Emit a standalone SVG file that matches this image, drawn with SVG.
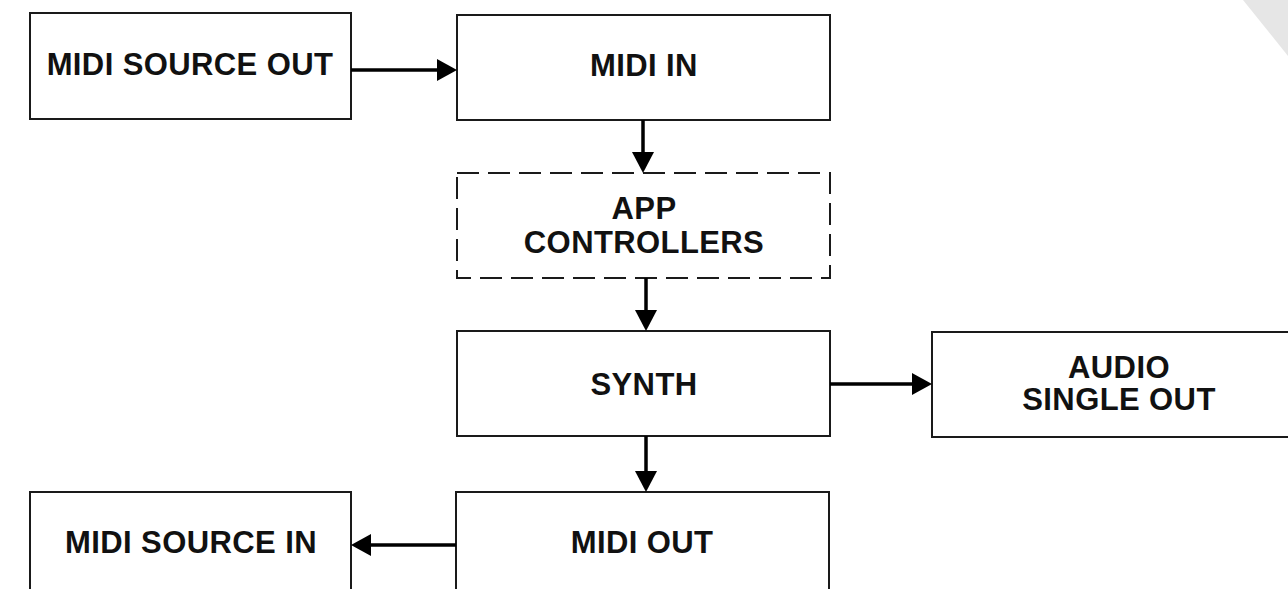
<svg xmlns="http://www.w3.org/2000/svg" width="1288" height="589" viewBox="0 0 1288 589">
  <style>
    .box { fill: #ffffff; stroke: #1a1a1a; stroke-width: 2; }
    .dashed { stroke-dasharray: 22 9; }
    .label { font-family: "Liberation Sans", Arial, sans-serif; font-weight: bold; font-size: 31px; letter-spacing: 0.4px; fill: #111111; text-anchor: middle; }
    .wire { stroke: #000000; stroke-width: 3.5; fill: none; }
    .head { fill: #000000; }
  </style>
  <rect x="0" y="0" width="1288" height="589" fill="#ffffff"/>
  <!-- page corner fold -->
  <polygon points="1243,0 1288,0 1288,56" fill="#e6e6e6"/>

  <g id="midi-source-out">
    <rect class="box" x="30" y="13" width="321" height="106"/>
    <text class="label" x="190" y="75">MIDI SOURCE OUT</text>
  </g>
  <g id="midi-in">
    <rect class="box" x="457" y="15" width="373" height="105"/>
    <text class="label" x="644" y="76">MIDI IN</text>
  </g>
  <g id="app-controllers">
    <rect class="box dashed" x="457" y="173" width="373" height="105"/>
    <text class="label" x="644" y="219">APP</text>
    <text class="label" x="644" y="253">CONTROLLERS</text>
  </g>
  <g id="synth">
    <rect class="box" x="457" y="331" width="373" height="105"/>
    <text class="label" x="644" y="395">SYNTH</text>
  </g>
  <g id="audio-single-out">
    <rect class="box" x="932" y="332" width="376" height="105"/>
    <text class="label" x="1119" y="378">AUDIO</text>
    <text class="label" x="1119" y="410">SINGLE OUT</text>
  </g>
  <g id="midi-out">
    <rect class="box" x="456" y="492" width="373" height="110"/>
    <text class="label" x="642" y="553">MIDI OUT</text>
  </g>
  <g id="midi-source-in">
    <rect class="box" x="30" y="492" width="321" height="110"/>
    <text class="label" x="191" y="553">MIDI SOURCE IN</text>
  </g>

  <g id="connectors">
    <!-- MIDI SOURCE OUT to MIDI IN -->
    <line class="wire" x1="351" y1="70" x2="440" y2="70"/>
    <polygon class="head" points="457,70 437,59 437,81"/>
    <!-- MIDI IN to APP CONTROLLERS -->
    <line class="wire" x1="643" y1="120" x2="643" y2="155"/>
    <polygon class="head" points="643,173 632,152 654,152"/>
    <!-- APP CONTROLLERS to SYNTH -->
    <line class="wire" x1="646" y1="278" x2="646" y2="313"/>
    <polygon class="head" points="646,331 635,310 657,310"/>
    <!-- SYNTH to AUDIO SINGLE OUT -->
    <line class="wire" x1="830" y1="384" x2="915" y2="384"/>
    <polygon class="head" points="932,384 912,373 912,395"/>
    <!-- SYNTH to MIDI OUT -->
    <line class="wire" x1="646" y1="436" x2="646" y2="474"/>
    <polygon class="head" points="646,492 635,471 657,471"/>
    <!-- MIDI OUT to MIDI SOURCE IN -->
    <line class="wire" x1="456" y1="545" x2="368" y2="545"/>
    <polygon class="head" points="351,545 371,534 371,556"/>
  </g>
</svg>
